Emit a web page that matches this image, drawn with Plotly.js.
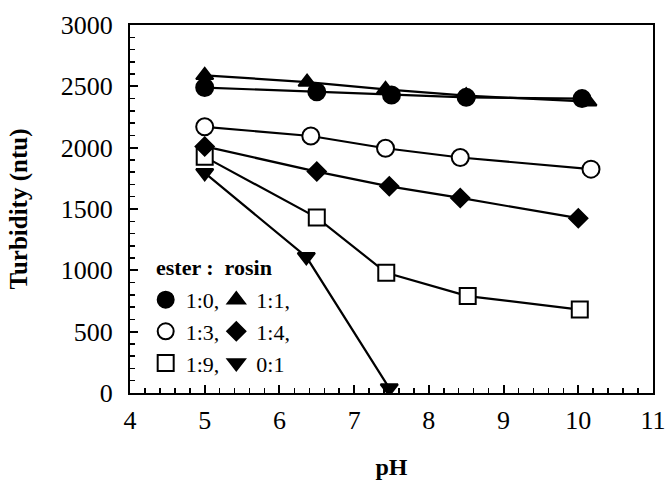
<!DOCTYPE html>
<html>
<head>
<meta charset="utf-8">
<script src="https://cdn.plot.ly/plotly-3.0.1.min.js"></script>
<style>html,body{margin:0;padding:0;background:#fff;}#chart{width:665px;height:485px;}</style>
</head>
<body>
<div id="chart"></div>
<script>
// Data
const ph_1_0 = [5, 6.5, 7.5, 8.5, 10.05];
const turb_1_0 = [2490, 2455, 2430, 2410, 2400];
const ph_1_1 = [5, 6.37, 7.42, 8.5, 10.13];
const turb_1_1 = [2590, 2535, 2475, 2425, 2375];
const ph_1_3 = [5, 6.42, 7.42, 8.42, 10.17];
const turb_1_3 = [2170, 2095, 1995, 1920, 1825];
const ph_1_4 = [5, 6.5, 7.47, 8.42, 10.0];
const turb_1_4 = [2010, 1805, 1685, 1590, 1425];
const ph_1_9 = [5, 6.5, 7.43, 8.52, 10.02];
const turb_1_9 = [1925, 1430, 980, 790, 680];
const ph_0_1 = [5, 6.36, 7.47];
const turb_0_1 = [1795, 1110, 40];

const seriesNames = ['1:0,', '1:1,', '1:3,', '1:4,', '1:9,', '0:1'];

const FONT = '"Liberation Serif", "DejaVu Serif", "Times New Roman", Times, serif';

const series = [
  {x: ph_1_0, y: turb_1_0, name: seriesNames[0], symbol: 'circle', size: 17, fill: '#000', legend: 'legend'},
  {x: ph_1_3, y: turb_1_3, name: seriesNames[2], symbol: 'circle', size: 17, fill: '#fff', legend: 'legend'},
  {x: ph_1_9, y: turb_1_9, name: seriesNames[4], symbol: 'square', size: 16, fill: '#fff', legend: 'legend'},
  {x: ph_1_1, y: turb_1_1, name: seriesNames[1], symbol: 'triangle-up', size: 15, fill: '#000', legend: 'legend2'},
  {x: ph_1_4, y: turb_1_4, name: seriesNames[3], symbol: 'diamond', size: 14, fill: '#000', legend: 'legend2'},
  {x: ph_0_1, y: turb_0_1, name: seriesNames[5], symbol: 'triangle-down', size: 15, fill: '#000', legend: 'legend2'}
];

const data = [];
series.forEach(s => data.push({
  x: s.x, y: s.y, type: 'scatter', mode: 'lines', showlegend: false,
  line: {color: '#000', width: 2.2}, hoverinfo: 'skip'
}));
series.forEach(s => data.push({
  x: s.x, y: s.y, name: s.name, type: 'scatter', mode: 'markers', legend: s.legend,
  marker: {symbol: s.symbol, size: s.size, color: s.fill, line: {color: '#000', width: 2}}
}));

const legendCommon = {
  font: {family: FONT, size: 22, color: '#000'},
  bgcolor: 'rgba(0,0,0,0)', borderwidth: 0,
  yanchor: 'top', xanchor: 'left', tracegroupgap: 0, itemwidth: 30
};

const layout = {
  width: 665, height: 485,
  margin: {l: 130, r: 12, t: 25, b: 92},
  paper_bgcolor: '#fff', plot_bgcolor: '#fff',
  font: {family: FONT, color: '#000'},
  showlegend: true,
  legend: Object.assign({x: 0.03, y: 0.31}, legendCommon),
  legend2: Object.assign({x: 0.165, y: 0.31}, legendCommon),
  xaxis: {
    range: [4, 11], tick0: 4, dtick: 1,
    ticks: 'inside', ticklen: 8, tickwidth: 2, tickcolor: '#000',
    minor: {dtick: 0.2, ticks: 'inside', ticklen: 5, tickwidth: 1.5, tickcolor: '#000', showgrid: false},
    showline: true, mirror: true, linewidth: 2, linecolor: '#000',
    showgrid: false, zeroline: false,
    tickfont: {family: FONT, size: 26, color: '#000'},
    ticklabelstandoff: 3, ticklabeloverflow: 'allow',
    title: {text: '<b>pH</b>', font: {family: FONT, size: 24, color: '#000'}, standoff: 24}
  },
  yaxis: {
    range: [0, 3000], tick0: 0, dtick: 500,
    ticks: 'inside', ticklen: 8, tickwidth: 2, tickcolor: '#000',
    minor: {dtick: 100, ticks: 'inside', ticklen: 5, tickwidth: 1.5, tickcolor: '#000', showgrid: false},
    showline: true, mirror: true, linewidth: 2, linecolor: '#000',
    showgrid: false, zeroline: false,
    tickfont: {family: FONT, size: 26, color: '#000'},
    ticklabelstandoff: 10,
    title: {text: '<b>Turbidity (ntu)</b>', font: {family: FONT, size: 25, color: '#000'}, standoff: 26}
  },
  annotations: [{
    xref: 'paper', yref: 'paper', x: 0.045, y: 0.34, xanchor: 'left', yanchor: 'middle',
    text: '<b>ester :  rosin</b>', showarrow: false,
    font: {family: FONT, size: 22, color: '#000'}
  }]
};

Plotly.newPlot('chart', data, layout, {staticPlot: true, displayModeBar: false});
</script>
</body>
</html>
